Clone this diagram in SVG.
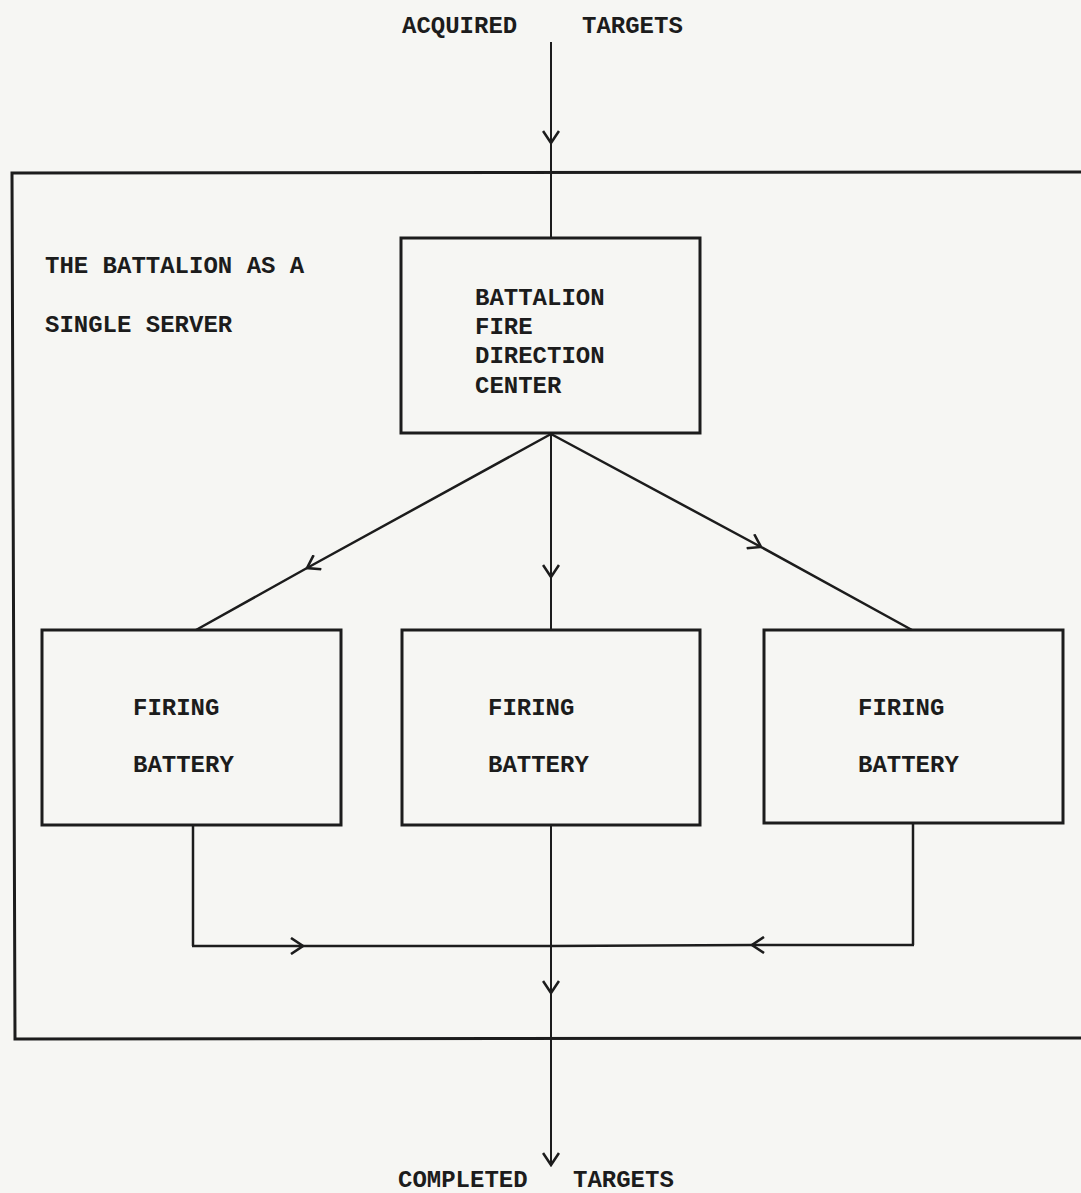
<svg xmlns="http://www.w3.org/2000/svg" width="1081" height="1193" viewBox="0 0 1081 1193">
<defs>
<style>
.t{font-family:"Liberation Mono","Courier New",monospace;font-size:24px;fill:#1c1c1c;font-weight:bold}
.box{fill:none;stroke:#1c1c1c;stroke-width:3}
.ln{fill:none;stroke:#1c1c1c;stroke-width:2.5}
.thin{fill:none;stroke:#1c1c1c;stroke-width:2}
</style>
<marker id="chev" viewBox="-14 -9 16 18" markerWidth="16" markerHeight="18" refX="0" refY="0" orient="auto" markerUnits="userSpaceOnUse">
<path d="M-12,-8 L0,0 L-12,8" fill="none" stroke="#1c1c1c" stroke-width="2.6"/>
</marker>
</defs>
<rect width="1081" height="1193" fill="#f6f6f3"/>

<g id="outer-boundary">
<path class="box" d="M1095,172 L12,173 L15,1039 L1095,1038"/>
<text class="t" x="45" y="273">THE BATTALION AS A</text>
<text class="t" x="45" y="332">SINGLE SERVER</text>
</g>

<g id="input-label">
<text class="t" x="402" y="33">ACQUIRED</text>
<text class="t" x="582" y="33">TARGETS</text>
</g>

<g id="output-label">
<text class="t" x="398" y="1187">COMPLETED</text>
<text class="t" x="573" y="1187">TARGETS</text>
</g>

<g id="bfdc">
<rect class="box" x="401" y="238" width="299" height="195"/>
<text class="t" x="475" y="305">BATTALION</text>
<text class="t" x="475" y="334">FIRE</text>
<text class="t" x="475" y="363">DIRECTION</text>
<text class="t" x="475" y="393">CENTER</text>
</g>

<g id="battery-1">
<rect class="box" x="42" y="630" width="299" height="195"/>
<text class="t" x="133" y="715">FIRING</text>
<text class="t" x="133" y="772">BATTERY</text>
</g>

<g id="battery-2">
<rect class="box" x="402" y="630" width="298" height="195"/>
<text class="t" x="488" y="715">FIRING</text>
<text class="t" x="488" y="772">BATTERY</text>
</g>

<g id="battery-3">
<rect class="box" x="764" y="630" width="299" height="193"/>
<text class="t" x="858" y="715">FIRING</text>
<text class="t" x="858" y="772">BATTERY</text>
</g>

<g id="connectors">
<path class="thin" d="M551,42 L551,143 L551,238" marker-mid="url(#chev)"/>
<path class="ln" d="M551,434 L307,568 L196,630" marker-mid="url(#chev)"/>
<path class="thin" d="M551,434 L551,577 L551,630" marker-mid="url(#chev)"/>
<path class="ln" d="M551,434 L761,547 L912,630" marker-mid="url(#chev)"/>
<path class="ln" d="M193,825 L193,946"/>
<path class="ln" d="M913,823 L913,945"/>
<path class="ln" d="M192,946 L303,946 L551,946" marker-mid="url(#chev)"/>
<path class="ln" d="M914,945 L752,945 L551,946" marker-mid="url(#chev)"/>
<path class="thin" d="M551,825 L551,993 L551,1165" marker-mid="url(#chev)" marker-end="url(#chev)"/>
</g>
</svg>
